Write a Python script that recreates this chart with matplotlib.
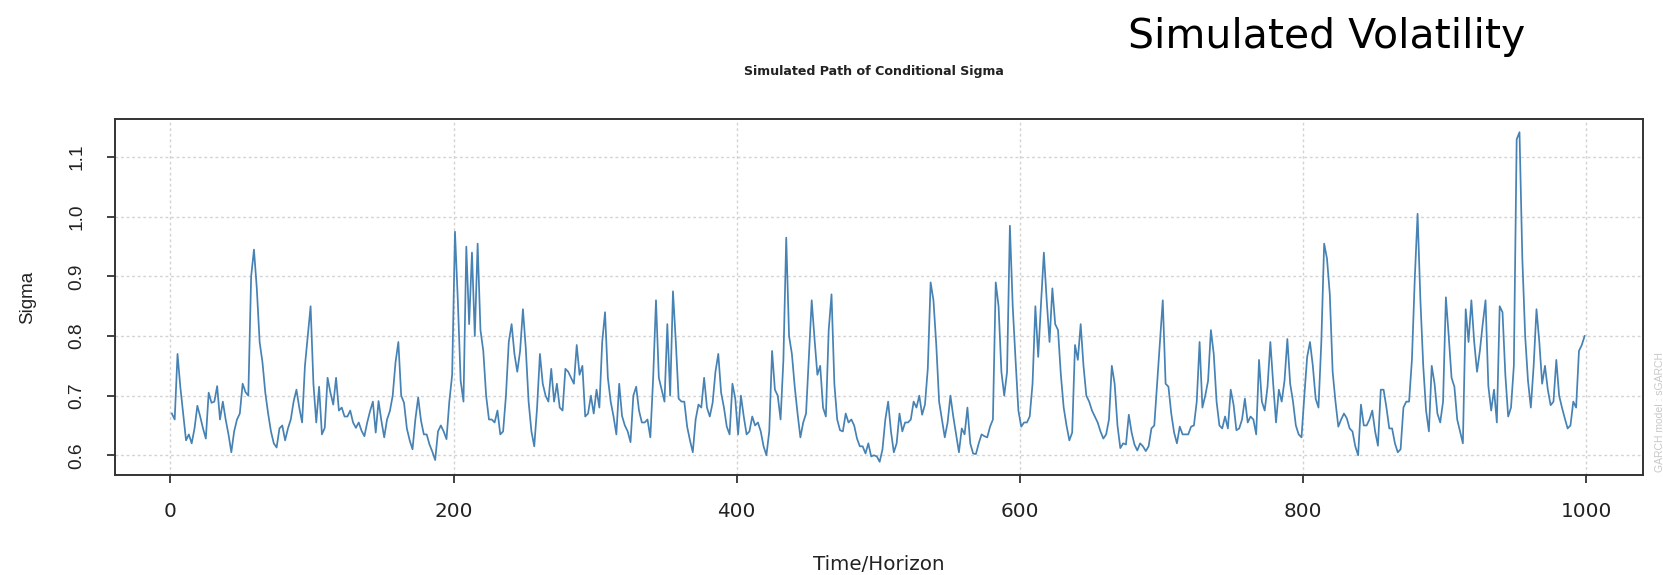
import numpy as np
import matplotlib
matplotlib.use("Agg")
import matplotlib.pyplot as plt

plt.rcParams['font.family'] = ['Liberation Sans', 'DejaVu Sans']

# simulated conditional sigma, every second step of the 1000-step horizon
sigma_000 = [0.67, 0.66, 0.77, 0.714, 0.67, 0.625, 0.635, 0.62, 0.645, 0.683,
             0.665, 0.645, 0.628, 0.705, 0.688, 0.69, 0.716, 0.66, 0.69, 0.66,
             0.635, 0.605, 0.64, 0.66, 0.67, 0.72, 0.706, 0.70, 0.90, 0.945,
             0.88, 0.79, 0.756, 0.705, 0.67, 0.64, 0.62, 0.613, 0.645, 0.65,
             0.625, 0.645, 0.66, 0.69, 0.71, 0.68, 0.655, 0.75, 0.80, 0.85]
sigma_100 = [0.72, 0.655, 0.715, 0.635, 0.646, 0.73, 0.705, 0.685, 0.73, 0.675,
             0.68, 0.665, 0.665, 0.675, 0.655, 0.646, 0.655, 0.641, 0.632, 0.655,
             0.674, 0.69, 0.638, 0.691, 0.658, 0.63, 0.66, 0.674, 0.70, 0.756,
             0.79, 0.70, 0.688, 0.645, 0.625, 0.61, 0.66, 0.697, 0.658, 0.635,
             0.635, 0.618, 0.606, 0.592, 0.64, 0.65, 0.64, 0.627, 0.69, 0.735]
sigma_200 = [0.975, 0.86, 0.725, 0.69, 0.95, 0.82, 0.94, 0.80, 0.955, 0.81,
             0.775, 0.70, 0.66, 0.66, 0.655, 0.675, 0.635, 0.64, 0.70, 0.79,
             0.82, 0.77, 0.74, 0.775, 0.845, 0.78, 0.69, 0.64, 0.615, 0.68,
             0.77, 0.72, 0.70, 0.69, 0.745, 0.69, 0.72, 0.68, 0.675, 0.745,
             0.74, 0.73, 0.72, 0.785, 0.735, 0.75, 0.665, 0.67, 0.70, 0.67]
sigma_300 = [0.71, 0.68, 0.79, 0.84, 0.73, 0.69, 0.665, 0.635, 0.72, 0.666,
             0.65, 0.64, 0.622, 0.70, 0.715, 0.675, 0.655, 0.655, 0.66, 0.63,
             0.73, 0.86, 0.73, 0.71, 0.69, 0.82, 0.70, 0.875, 0.79, 0.695,
             0.69, 0.69, 0.648, 0.625, 0.605, 0.66, 0.685, 0.68, 0.73, 0.68,
             0.665, 0.688, 0.74, 0.77, 0.705, 0.68, 0.648, 0.635, 0.72, 0.695]
sigma_400 = [0.635, 0.70, 0.665, 0.635, 0.64, 0.665, 0.65, 0.655, 0.64, 0.615,
             0.60, 0.64, 0.775, 0.71, 0.70, 0.66, 0.76, 0.965, 0.80, 0.77,
             0.715, 0.67, 0.63, 0.655, 0.67, 0.765, 0.86, 0.795, 0.735, 0.75,
             0.68, 0.665, 0.81, 0.87, 0.72, 0.66, 0.642, 0.64, 0.67, 0.655,
             0.66, 0.65, 0.628, 0.615, 0.615, 0.603, 0.62, 0.598, 0.60, 0.598]
sigma_500 = [0.589, 0.61, 0.66, 0.69, 0.64, 0.605, 0.62, 0.67, 0.64, 0.655,
             0.655, 0.66, 0.69, 0.68, 0.70, 0.668, 0.685, 0.745, 0.89, 0.86,
             0.785, 0.69, 0.66, 0.63, 0.655, 0.70, 0.665, 0.635, 0.605, 0.645,
             0.635, 0.68, 0.62, 0.603, 0.602, 0.62, 0.635, 0.632, 0.63, 0.648,
             0.66, 0.89, 0.85, 0.74, 0.70, 0.74, 0.985, 0.85, 0.76, 0.675]
sigma_600 = [0.648, 0.655, 0.655, 0.665, 0.72, 0.85, 0.765, 0.855, 0.94, 0.86,
             0.79, 0.88, 0.82, 0.81, 0.735, 0.68, 0.65, 0.625, 0.638, 0.785,
             0.76, 0.82, 0.75, 0.70, 0.69, 0.675, 0.665, 0.655, 0.64, 0.628,
             0.635, 0.66, 0.75, 0.72, 0.65, 0.612, 0.62, 0.618, 0.668, 0.638,
             0.618, 0.608, 0.62, 0.615, 0.607, 0.615, 0.645, 0.65, 0.72, 0.79]
sigma_700 = [0.86, 0.72, 0.715, 0.67, 0.638, 0.62, 0.648, 0.635, 0.635, 0.635,
             0.648, 0.65, 0.69, 0.79, 0.68, 0.70, 0.725, 0.81, 0.77, 0.69,
             0.65, 0.645, 0.665, 0.645, 0.71, 0.685, 0.642, 0.645, 0.66, 0.695,
             0.655, 0.665, 0.66, 0.635, 0.76, 0.69, 0.675, 0.715, 0.79, 0.72,
             0.655, 0.71, 0.69, 0.725, 0.795, 0.72, 0.69, 0.65, 0.635, 0.63]
sigma_800 = [0.70, 0.765, 0.79, 0.75, 0.695, 0.68, 0.79, 0.955, 0.93, 0.87,
             0.74, 0.69, 0.648, 0.66, 0.67, 0.662, 0.645, 0.64, 0.615, 0.60,
             0.685, 0.65, 0.65, 0.66, 0.675, 0.64, 0.616, 0.71, 0.71, 0.68,
             0.645, 0.645, 0.62, 0.605, 0.61, 0.68, 0.69, 0.69, 0.76, 0.895,
             1.005, 0.86, 0.75, 0.675, 0.64, 0.75, 0.72, 0.67, 0.655, 0.69]
sigma_900 = [0.865, 0.80, 0.73, 0.715, 0.66, 0.64, 0.62, 0.845, 0.79, 0.86,
             0.79, 0.74, 0.775, 0.82, 0.86, 0.716, 0.675, 0.71, 0.655, 0.85,
             0.84, 0.735, 0.665, 0.68, 0.75, 1.13, 1.142, 0.93, 0.80, 0.725,
             0.68, 0.75, 0.845, 0.79, 0.72, 0.75, 0.71, 0.684, 0.69, 0.76,
             0.70, 0.68, 0.662, 0.645, 0.65, 0.69, 0.68, 0.775, 0.785, 0.80]

sigma = np.concatenate([sigma_000, sigma_100, sigma_200, sigma_300, sigma_400,
                        sigma_500, sigma_600, sigma_700, sigma_800, sigma_900])
horizon = np.arange(1, 1000, 2)

x_ticks = [0, 200, 400, 600, 800, 1000]
y_ticks = [0.6, 0.7, 0.8, 0.9, 1.0, 1.1]

W, H = 1663, 575
fig = plt.figure(figsize=(W / 100, H / 100), dpi=100)
ax = fig.add_axes([115.3 / W, 1 - 475 / H, (1642.6 - 115.3) / W, (475 - 119) / H])

# R-style padded ranges
lo, hi = sigma.min(), sigma.max()
ax.set_xlim(1 - 0.04 * 999, 1000 + 0.04 * 999)
ax.set_ylim(lo - 0.04 * (hi - lo), hi + 0.04 * (hi - lo))

for v in x_ticks:
    ax.axvline(v, color='#d3d3d3', lw=1, ls=(0, (2, 2)), zorder=1)
for v in y_ticks:
    ax.axhline(v, color='#d3d3d3', lw=1, ls=(0, (2, 2)), zorder=1)

ax.plot(horizon, sigma, color='steelblue', lw=1.25, zorder=3)

for s in ax.spines.values():
    s.set_color('#333333')
    s.set_linewidth(1.4)

ax.set_xticks(x_ticks)
ax.set_xticklabels([str(v) for v in x_ticks], family='DejaVu Sans', fontsize=14.4)
ax.set_yticks(y_ticks)
ax.set_yticklabels(['%.1f' % v for v in y_ticks], rotation=90, va='center',
                   fontsize=13.8)
ax.tick_params(axis='both', length=5.8, width=1.3, color='#333333',
               labelcolor='#222222')
ax.tick_params(axis='x', pad=13.5)
ax.tick_params(axis='y', pad=16)

fig.text(27.5 / W, 1 - 297 / H, 'Sigma', rotation=90, ha='center', va='center',
         fontsize=13.5, color='#222222')
fig.text(879 / W, 1 - 564 / H, 'Time/Horizon', ha='center', va='center',
         family='DejaVu Sans', fontsize=14.3, color='#222222')
fig.text(874 / W, 1 - 72 / H, 'Simulated Path of Conditional Sigma', ha='center',
         va='center', family='DejaVu Sans', fontsize=9.1, fontweight='bold',
         color='#222222')
fig.text(1327 / W, 1 - 37 / H, 'Simulated Volatility', ha='center', va='center',
         family='DejaVu Sans', fontsize=29.5, color='black')
fig.text(1660 / W, 1 - 472 / H, 'GARCH model : sGARCH', rotation=90, ha='center',
         va='bottom', fontsize=7.5, color='#c8c8c8')

fig.savefig('out.png', dpi=100)
